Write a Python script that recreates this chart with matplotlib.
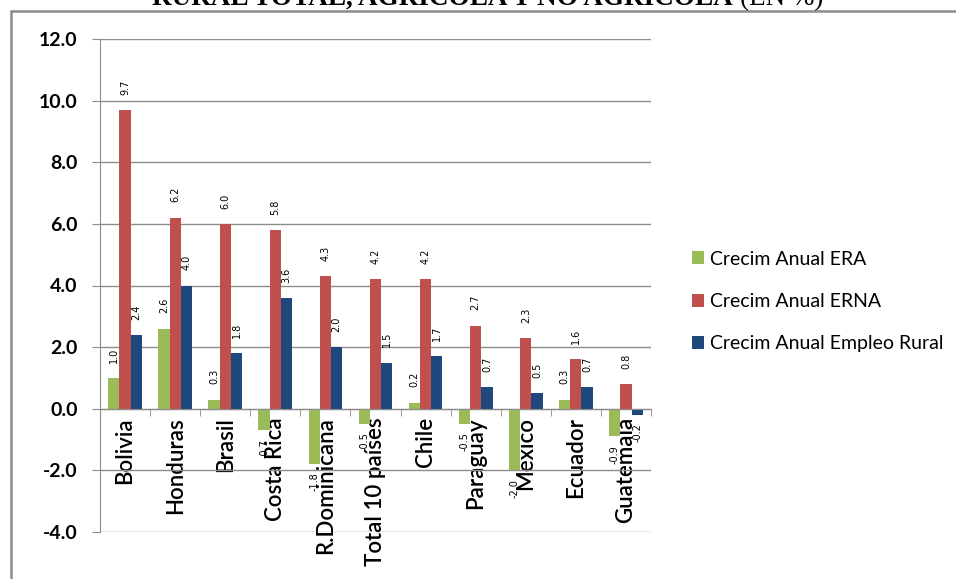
import numpy as np
import matplotlib
matplotlib.use("Agg")
from matplotlib import pyplot as plt
from matplotlib.patches import Rectangle, Patch
from matplotlib.ticker import MultipleLocator, FormatStrFormatter

countries = ["Bolivia", "Honduras", "Brasil", "Costa Rica", "R.Dominicana",
             "Total 10 países", "Chile", "Paraguay", "México", "Ecuador", "Guatemala"]
era = [1.0, 2.6, 0.3, -0.7, -1.8, -0.5, 0.2, -0.5, -2.0, 0.3, -0.9]
erna = [9.7, 6.2, 6.0, 5.8, 4.3, 4.2, 4.2, 2.7, 2.3, 1.6, 0.8]
empleo = [2.4, 4.0, 1.8, 3.6, 2.0, 1.5, 1.7, 0.7, 0.5, 0.7, -0.2]
series_names = ["Crecim Anual ERA", "Crecim Anual ERNA", "Crecim Anual Empleo Rural"]
colors = ["#9BBB59", "#C0504D", "#1F497D"]

plt.rcParams['font.family'] = ['Lato', 'DejaVu Sans']
grid_col = "#8C8C8C"

fig = plt.figure(figsize=(9.56, 5.79), dpi=100)
ax = fig.add_axes([100/956, 1 - 532/579, 551/956, (532 - 39)/579])

x = np.arange(len(countries))
w = 0.225
for k, vals in enumerate([era, erna, empleo]):
    bars = ax.bar(x + (k - 1) * w, vals, width=w, color=colors[k], zorder=3)
    for b, v in zip(bars, vals):
        cx = b.get_x() + b.get_width() / 2
        if v >= 0:
            ax.annotate(f"{v:.1f}", (cx, v), xytext=(0, 11), textcoords="offset points",
                        rotation=90, ha="center", va="bottom", fontsize=7,
                        family="DejaVu Sans", zorder=4)
        else:
            ax.annotate(f"{v:.1f}", (cx, v), xytext=(0, -6), textcoords="offset points",
                        rotation=90, ha="center", va="top", fontsize=7,
                        family="DejaVu Sans", zorder=4)

ax.set_xlim(-0.5, len(countries) - 0.5)
ax.set_ylim(-4, 12)
ax.yaxis.set_major_locator(MultipleLocator(2))
ax.yaxis.set_major_formatter(FormatStrFormatter("%.1f"))
ax.grid(axis="y", color=grid_col, lw=1, zorder=0)

for s in ["top", "right"]:
    ax.spines[s].set_visible(False)
ax.spines["left"].set_color(grid_col)
ax.spines["bottom"].set_color(grid_col)
ax.spines["bottom"].set_position(("data", 0))
ax.spines["bottom"].set_zorder(3.5)

ax.tick_params(axis="y", length=6, color=grid_col, labelsize=14, pad=10)
for t in ax.get_yticklabels():
    t.set_fontweight("bold")

ax.set_xticks(x)
ax.set_xticklabels(countries, rotation=90, fontsize=16, va="top", fontweight="semibold")
ax.tick_params(axis="x", which="major", length=0, pad=6)
ax.set_xticks(np.arange(len(countries) + 1) - 0.5, minor=True)
ax.tick_params(axis="x", which="minor", length=5, color=grid_col, direction="out")

handles = [Patch(facecolor=c) for c in colors]
fig.legend(handles, series_names, loc="upper left", bbox_to_anchor=(684/956, 1 - 243/579),
           frameon=False, fontsize=14, handlelength=0.65, handleheight=0.65,
           handletextpad=0.3, labelspacing=1.3, borderaxespad=0)

# outer frame of the chart object
fig.patches.append(Rectangle((11/956, -0.1), 1.2, 1.1 - 11/579, transform=fig.transFigure,
                             fill=False, edgecolor=grid_col, lw=1.8))

# title, clipped at top of the image
t1 = fig.text(152/956, 1 - 5/579, "RURAL TOTAL, AGRICOLA Y NO AGRICOLA", family="Liberation Serif",
              fontweight="bold", fontsize=19.5, ha="left", va="baseline")
r = fig.canvas.get_renderer()
bb = t1.get_window_extent(r)
fig.text((bb.x1 + 7) / 956, 1 - 5/579, "(EN %)", family="Liberation Serif",
         fontsize=19.5, ha="left", va="baseline")

fig.savefig("out.png", dpi=100)
